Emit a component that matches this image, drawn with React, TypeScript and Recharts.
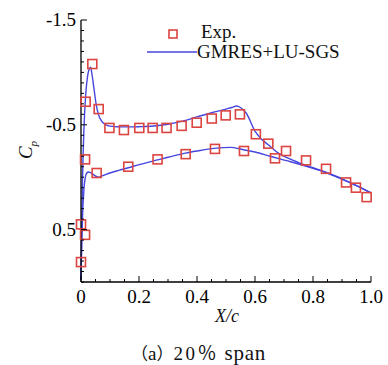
import React from 'react';
import { ComposedChart, Line, Scatter, XAxis, YAxis } from 'recharts';

// experiment (squares)
const EXP_X = [0.0, 0.0, 0.014, 0.014, 0.016, 0.039, 0.061, 0.098, 0.148, 0.201, 0.247, 0.295, 0.347, 0.399, 0.451, 0.499, 0.548, 0.603, 0.646, 0.707, 0.776, 0.845, 0.914, 0.948, 0.985, 0.054, 0.163, 0.264, 0.361, 0.462, 0.562, 0.669];
const EXP_CP = [0.81, 0.45, 0.55, -0.17, -0.72, -1.08, -0.65, -0.47, -0.45, -0.47, -0.47, -0.47, -0.49, -0.52, -0.56, -0.59, -0.6, -0.41, -0.32, -0.25, -0.16, -0.08, 0.05, 0.1, 0.19, -0.04, -0.1, -0.17, -0.22, -0.27, -0.25, -0.18];

// GMRES+LU-SGS, suction side
const UPPER_X = [0, 0.002, 0.005, 0.01, 0.016, 0.022, 0.028, 0.033, 0.038, 0.045, 0.052, 0.06, 0.07, 0.08, 0.09, 0.1, 0.12, 0.15, 0.2, 0.25, 0.3, 0.35, 0.4, 0.45, 0.5, 0.52, 0.537, 0.55, 0.57, 0.6, 0.62, 0.65, 0.675, 0.7, 0.75, 0.8, 0.85, 0.9, 0.95, 1.0];
const UPPER_CP = [0.98, 0.55, 0.05, -0.45, -0.78, -0.95, -1.03, -1.05, -0.98, -0.84, -0.7, -0.6, -0.54, -0.51, -0.495, -0.487, -0.482, -0.48, -0.482, -0.488, -0.505, -0.535, -0.575, -0.615, -0.65, -0.665, -0.68, -0.665, -0.61, -0.44, -0.37, -0.3, -0.24, -0.2, -0.14, -0.09, -0.04, 0.015, 0.08, 0.15];

// GMRES+LU-SGS, pressure side
const LOWER_X = [0, 0.002, 0.005, 0.01, 0.015, 0.02, 0.025, 0.035, 0.045, 0.06, 0.08, 0.1, 0.13, 0.163, 0.2, 0.264, 0.3, 0.36, 0.4, 0.46, 0.514, 0.56, 0.6, 0.652, 0.72, 0.8, 0.85, 0.9, 0.95, 1.0];
const LOWER_CP = [0.98, 0.72, 0.4, 0.12, 0.0, -0.04, -0.05, -0.04, -0.02, 0.0, -0.02, -0.04, -0.065, -0.09, -0.12, -0.165, -0.19, -0.23, -0.25, -0.275, -0.285, -0.262, -0.24, -0.2, -0.15, -0.085, -0.04, 0.02, 0.08, 0.15];

const X_LABELS = [0, 0.2, 0.4, 0.6, 0.8, 1.0];
const Y_LABELS = [-1.5, -0.5, 0.5];

const expData = EXP_X.map((x, i) => ({ x, cp: EXP_CP[i] }));
const upperData = UPPER_X.map((x, i) => ({ x, cp: UPPER_CP[i] }));
const lowerData = LOWER_X.map((x, i) => ({ x, cp: LOWER_CP[i] }));

const xTicks: number[] = [];
for (let i = 0; i <= 20; i++) xTicks.push(+(i * 0.05).toFixed(2));
const yTicks: number[] = [];
for (let i = 0; i <= 25; i++) yTicks.push(+(-1.5 + i * 0.1).toFixed(1));

const FONT = '"Liberation Serif", "Times New Roman", serif';
const CJK = '"Noto Sans CJK SC", sans-serif';
const RED = '#dc4440';
const BLUE = '#4646de';

const has = (arr: number[], v: number) => arr.some((t) => Math.abs(t - v) < 1e-6);

const YTick = ({ x, y, payload }: any) => {
  const major = has(Y_LABELS, payload.value);
  return (
    <g>
      <line x1={x} x2={x + (major ? 6 : 3)} y1={y} y2={y} stroke="#000" strokeWidth={1} />
      {major && (
        <text x={x - 5} y={y + 6} textAnchor="end" fontFamily={FONT} fontSize={19} fill="#000">
          {payload.value.toFixed(1)}
        </text>
      )}
    </g>
  );
};

const XTick = ({ x, y, payload }: any) => {
  const major = has(X_LABELS, payload.value);
  return (
    <g>
      <line x1={x} x2={x} y1={y} y2={y - (major ? 6 : 3)} stroke="#000" strokeWidth={1} />
      {major && (
        <text x={x} y={y + 21} textAnchor="middle" fontFamily={FONT} fontSize={19} fill="#000">
          {payload.value === 0 ? '0' : payload.value.toFixed(1)}
        </text>
      )}
    </g>
  );
};

const Square = ({ cx, cy }: any) => (
  <rect x={cx - 4.5} y={cy - 4.5} width={9} height={9} fill="none" stroke={RED} strokeWidth={1.6} />
);

export default function App() {
  return (
    <div style={{ position: 'absolute', left: 0, top: 0, width: 388, height: 365, background: '#fff' }}>
      <ComposedChart width={388} height={340} margin={{ top: 20, right: 17, bottom: 0, left: 0 }}>
        <XAxis
          type="number"
          dataKey="x"
          domain={[0, 1]}
          ticks={xTicks}
          interval={0}
          tickSize={0}
          tickMargin={0}
          tickLine={false}
          tick={<XTick />}
          height={58}
          stroke="#000"
          strokeWidth={1.3}
        />
        <YAxis
          type="number"
          dataKey="cp"
          domain={[-1.5, 1.0]}
          reversed
          ticks={yTicks}
          interval={0}
          tickSize={0}
          tickMargin={0}
          tickLine={false}
          tick={<YTick />}
          width={81}
          stroke="#000"
          strokeWidth={1.3}
        />
        <Line data={upperData} dataKey="cp" type="monotoneX" stroke={BLUE} strokeWidth={1.4} dot={false} isAnimationActive={false} />
        <Line data={lowerData} dataKey="cp" type="monotoneX" stroke={BLUE} strokeWidth={1.4} dot={false} isAnimationActive={false} />
        <Scatter data={expData} dataKey="cp" shape={<Square />} isAnimationActive={false} />
      </ComposedChart>
      <svg width={230} height={45} style={{ position: 'absolute', left: 140, top: 20 }}>
        <rect x={29} y={10} width={8} height={8} fill="none" stroke={RED} strokeWidth={1.6} />
        <text x={61} y={18} fontFamily={FONT} fontSize={19} fill="#111">Exp.</text>
        <line x1={7} x2={57} y1={32} y2={32} stroke={BLUE} strokeWidth={1.4} />
        <text x={57} y={38} fontFamily={FONT} fontSize={19} fill="#111">GMRES+LU-SGS</text>
      </svg>
      <div
        style={{
          position: 'absolute', left: 27, top: 150, transform: 'translate(-50%, -50%) rotate(-90deg)',
          fontFamily: FONT, fontSize: 19, fontStyle: 'italic', color: '#111', whiteSpace: 'nowrap',
        }}
      >
        C<sub style={{ fontSize: 11 }}>p</sub>
      </div>
      <div
        style={{
          position: 'absolute', left: 215, top: 306, fontFamily: FONT, fontSize: 18,
          fontStyle: 'italic', color: '#111', whiteSpace: 'nowrap',
        }}
      >
        X/c
      </div>
      <div
        style={{
          position: 'absolute', left: 131, top: 341, fontFamily: FONT,
          fontSize: 19, lineHeight: '22px', color: '#111', whiteSpace: 'nowrap',
        }}
      >
        <span style={{ fontFamily: CJK, fontSize: 17 }}>（</span>
        <span>a</span>
        <span style={{ fontFamily: CJK, fontSize: 17 }}>）</span>
        <span style={{ letterSpacing: 2.5 }}>20</span>
        <span style={{ fontFamily: CJK, fontSize: 19 }}>％</span>
        <span style={{ marginLeft: 8, fontSize: 21, letterSpacing: 0.8 }}>span</span>
      </div>
    </div>
  );
}
